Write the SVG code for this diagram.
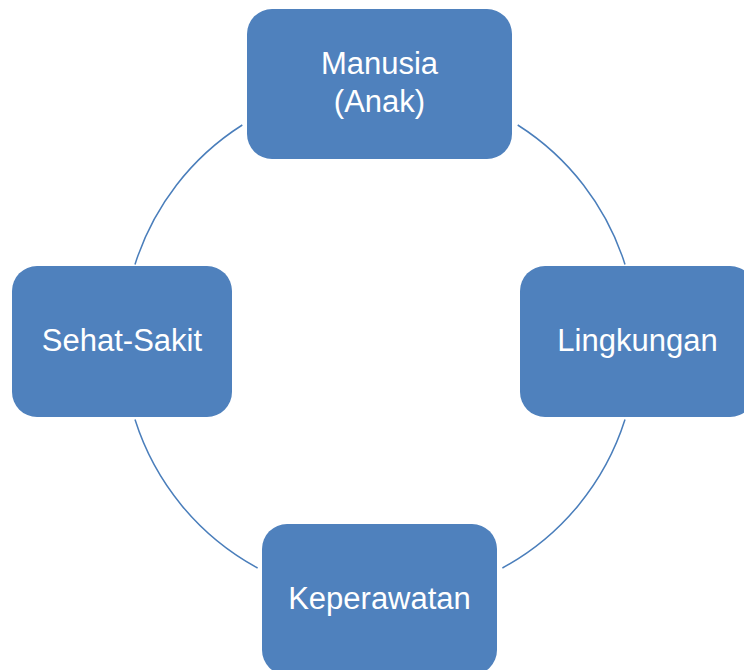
<svg xmlns="http://www.w3.org/2000/svg" width="744" height="670" viewBox="0 0 744 670">
<style>
.box{fill:#4f81bd;}
.lbl{fill:#fff;font-family:"Liberation Sans",Arial,sans-serif;font-size:31px;text-anchor:middle;}
.arc{fill:none;stroke:#4a7ebb;stroke-width:1.5;}
</style>
<rect width="744" height="670" fill="#fff"/>
<g id="connectors">
<path class="arc" d="M242.3 125 A257 257 0 0 0 135 264.4"/>
<path class="arc" d="M135 419.6 A257 257 0 0 0 257.6 568"/>
<path class="arc" d="M502.4 568 A257 257 0 0 0 625 419.6"/>
<path class="arc" d="M625 264.4 A257 257 0 0 0 517.7 125"/>
</g>
<g id="manusia">
<rect class="box" x="247" y="9" width="265" height="150" rx="25"/>
<text class="lbl" x="379.5" y="74">Manusia</text>
<text class="lbl" x="379.5" y="112">(Anak)</text>
</g>
<g id="lingkungan">
<rect class="box" x="520" y="266" width="235" height="151" rx="25"/>
<text class="lbl" x="637.5" y="351">Lingkungan</text>
</g>
<g id="keperawatan">
<rect class="box" x="262" y="524" width="235" height="151" rx="25"/>
<text class="lbl" x="379.5" y="609">Keperawatan</text>
</g>
<g id="sehat-sakit">
<rect class="box" x="12" y="266" width="220" height="151" rx="25"/>
<text class="lbl" x="122" y="351">Sehat-Sakit</text>
</g>
</svg>
